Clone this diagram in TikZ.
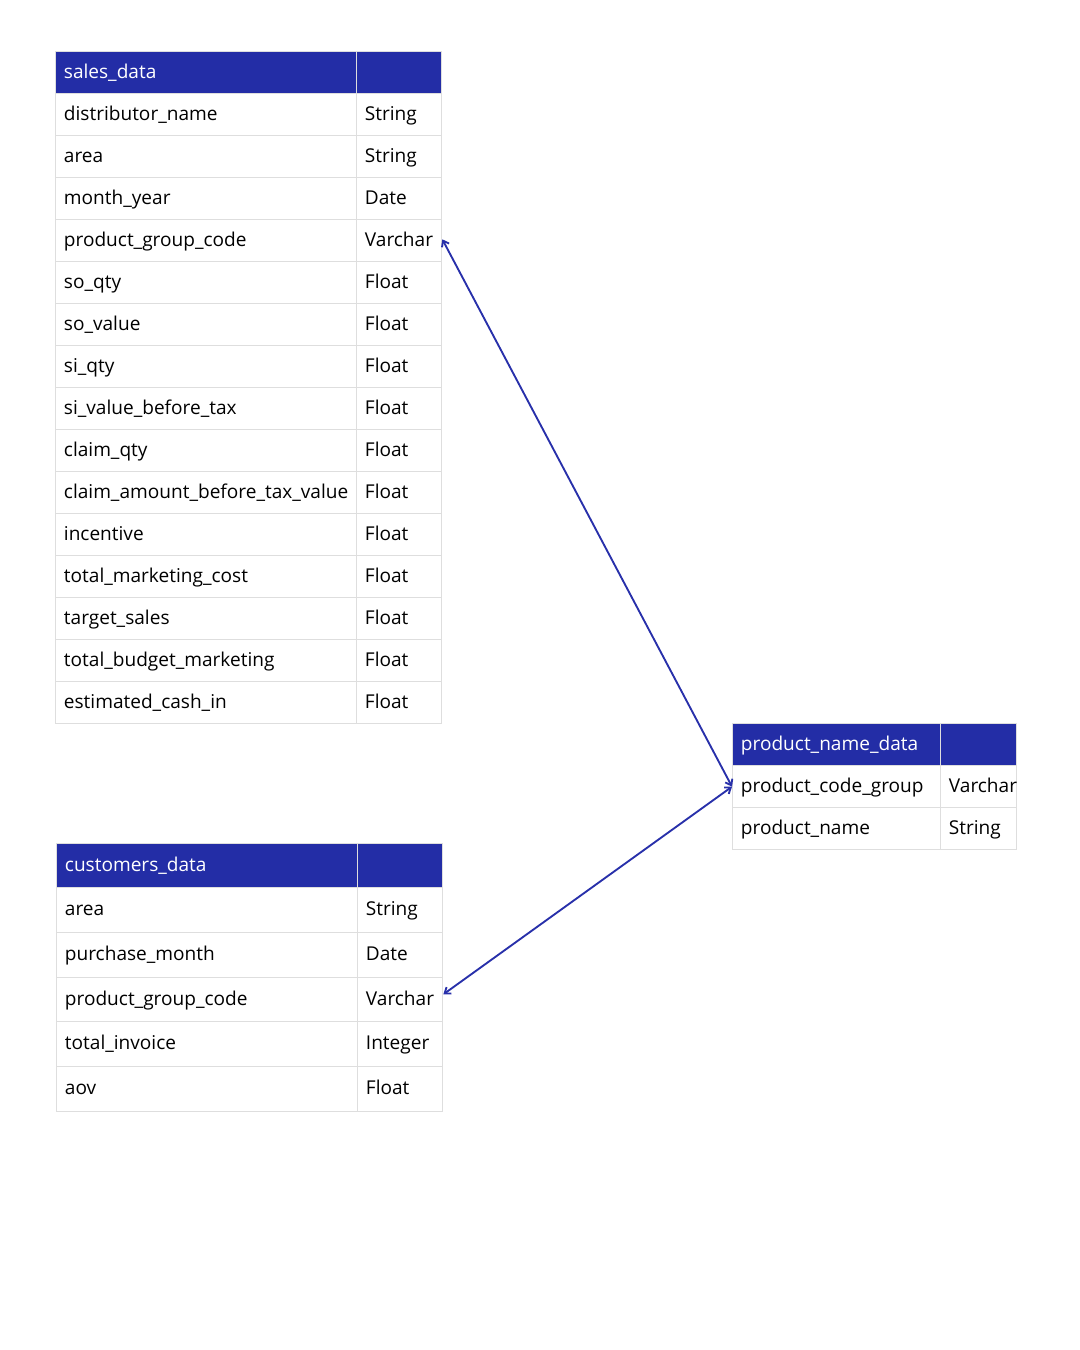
\documentclass[tikz,border=0pt]{standalone}
\usepackage{fontspec}
\setmainfont{Open Sans}
\usetikzlibrary{arrows.meta}
\definecolor{hdr}{RGB}{35,45,166}
\definecolor{gridc}{RGB}{222,222,222}
\definecolor{linkc}{RGB}{40,48,170}
\tikzset{
  cell/.style={draw=gridc, line width=1pt, anchor=north west, inner xsep=6.2pt, inner ysep=0pt,
    align=left, text height=11pt, text depth=2.4pt, font=\fontsize{14.3}{17}\selectfont},
  hcell/.style={cell, fill=hdr, text=white},
  bcell/.style={cell, fill=white, text=black},
  link/.style={draw=linkc, line width=1.4pt,
    {Straight Barb[length=4pt,width=6pt]}-{Straight Barb[length=4pt,width=6pt]}}
}
% #1 name, #2 x left, #3 x split, #4 x right, #5 y top, #6 height, #7 field, #8 type, #9 style
\newcommand\trow[9]{%
  \node[#9, minimum height={#6*0.75pt}, text width={(#3-#2)*0.75pt-12.4pt}] (#1a) at (#2,#5) {#7};
  \node[#9, minimum height={#6*0.75pt}, text width={(#4-#3)*0.75pt-12.4pt}] (#1b) at (#3,#5) {#8};
}
\begin{document}
\begin{tikzpicture}[x=0.75pt,y=-0.75pt]
\useasboundingbox[fill=white] (0,0) rectangle (1080,1350);

% sales_data
\trow{s0}{55}{356}{441}{51}{42}{sales\_data}{}{hcell}
\foreach \f/\t [count=\i from 1] in {
  distributor\_name/String, area/String, month\_year/Date, product\_group\_code/Varchar,
  so\_qty/Float, so\_value/Float, si\_qty/Float, si\_value\_before\_tax/Float,
  claim\_qty/Float, claim\_amount\_before\_tax\_value/Float, incentive/Float,
  total\_marketing\_cost/Float, target\_sales/Float, total\_budget\_marketing/Float,
  estimated\_cash\_in/Float}{
  \pgfmathsetmacro\yy{51+42*\i}
  \trow{s\i}{55}{356}{441}{\yy}{42}{\f}{\t}{bcell}
}

% customers_data
\trow{c0}{56}{357}{442}{843}{44}{customers\_data}{}{hcell}
\foreach \f/\t/\yy/\hh [count=\i from 1] in {
  area/String/887/45, purchase\_month/Date/932/45, product\_group\_code/Varchar/977/44,
  total\_invoice/Integer/1021/45, aov/Float/1066/45}{
  \trow{c\i}{56}{357}{442}{\yy}{\hh}{\f}{\t}{bcell}
}

% product_name_data
\trow{p0}{732}{940}{1016}{723}{42}{product\_name\_data}{}{hcell}
\begin{scope}
  \clip (700,760) rectangle (1017.5,812);
  \trow{p1}{732}{940}{1016}{765}{42}{product\_code\_group}{Varchar}{bcell}
\end{scope}
\trow{p2}{732}{940}{1016}{807}{42}{product\_name}{String}{bcell}

% relations
\draw[link] ([yshift=1pt]s4b.east) -- (p1a.west);
\draw[link] ([yshift=4pt]c3b.east) -- (p1a.west);
\end{tikzpicture}
\end{document}
